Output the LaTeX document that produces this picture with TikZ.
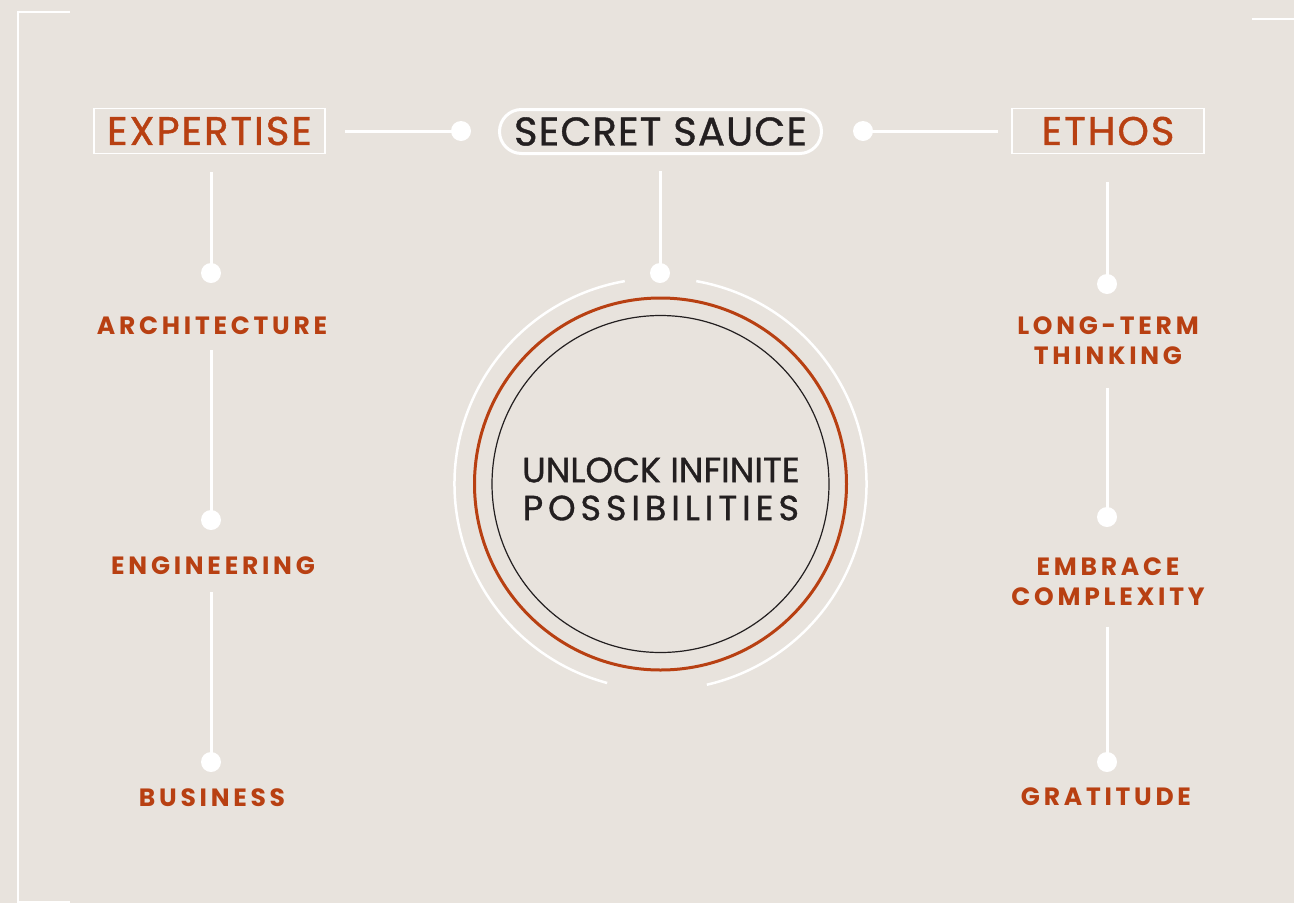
\documentclass[tikz,border=0pt]{standalone}
\usepackage{fontspec}
\setmainfont{Poppins}
\newfontfamily\headfont[LetterSpace=5,FakeBold=1]{Poppins}
\newfontfamily\pillfont[LetterSpace=3,FakeBold=1]{Poppins}
\newfontfamily\lblfont[LetterSpace=15]{Poppins}
\newfontfamily\ctrAfont[LetterSpace=0,FakeBold=1]{Poppins}
\newfontfamily\ctrBfont[LetterSpace=14,FakeBold=1]{Poppins}
\definecolor{bg}{RGB}{232,227,221}
\definecolor{rust}{RGB}{184,64,18}
\definecolor{ink}{RGB}{35,31,32}
\begin{document}
\begin{tikzpicture}[x=1pt,y=-1pt,
  wline/.style={draw=white,line width=3pt},
  dot/.style={circle,fill=white,inner sep=0pt,minimum size=20pt},
  head/.style={font=\headfont\fontsize{40}{44}\selectfont,text=rust},
  hbox/.style={head,draw=white,line width=1.5pt,minimum width=231pt,minimum height=45pt,inner sep=0pt},
  pill/.style={font=\pillfont\fontsize{40}{44}\selectfont,text=ink,draw=white,line width=3pt,
    minimum width=322pt,minimum height=44pt,rounded corners=22pt,inner sep=0pt},
  lbl/.style={font=\lblfont\bfseries\fontsize{25}{30}\selectfont,text=rust,align=center,inner sep=0pt}
]
\useasboundingbox (0,0) rectangle (1294,903);
\fill[bg] (0,0) rectangle (1294,903);
% frame corners
\draw[white,line width=2.5pt] (70,12) -- (18,12) -- (18,903);
\draw[white,line width=2.5pt] (18,902) -- (70,902);
\draw[white,line width=2.5pt] (1252,19) -- (1294,19);

% top row
\node[hbox] (exp) at (209.5,131) {EXPERTISE};
\node[pill] (ss) at (660.5,131.5) {SECRET SAUCE};
\node[hbox,minimum width=192pt] (eth) at (1108,131) {ETHOS};
\node[dot] (d1) at (461,131) {};
\node[dot] (d2) at (863,131) {};
\draw[wline,shorten <=19pt] (exp.east |- d1.center) -- (d1.center);
\draw[wline,shorten >=13pt] (d2.center) -- (eth.west |- d2.center);

% left column
\node[dot] (la) at (211,273) {};
\node[lbl] (arch) at (212,326) {ARCHITECTURE};
\node[dot] (lb) at (211,520) {};
\node[lbl] (eng) at (213,566) {ENGINEERING};
\node[dot] (lc) at (211,762) {};
\node[lbl] (bus) at (212,798) {BUSINESS};
\draw[wline,shorten <=18pt] (la.center |- exp.south) -- (la.center);
\draw[wline,shorten <=15pt] (lb.center |- arch.south) -- (lb.center);
\draw[wline,shorten <=17pt] (lc.center |- eng.south) -- (lc.center);

% right column
\node[dot] (ra) at (1107,284) {};
\node[lbl] (ltt) at (1108,341) {LONG-TERM\\THINKING};
\node[dot] (rb) at (1107,517) {};
\node[lbl] (emb) at (1108,581.5) {EMBRACE\\COMPLEXITY};
\node[dot] (rc) at (1107,762) {};
\node[lbl] (grat) at (1106,797) {GRATITUDE};
\draw[wline,shorten <=28pt] (ra.center |- eth.south) -- (ra.center);
\draw[wline,shorten <=23pt] (rb.center |- ltt.south) -- (rb.center);
\draw[wline,shorten <=21pt] (rc.center |- emb.south) -- (rc.center);

% centre
\node[circle,draw=ink,line width=1.2pt,minimum size=337pt,inner sep=0pt] (core) at (660.5,484) {};
\node[text=ink,align=center,inner sep=0pt,font=\fontsize{35}{38}\selectfont] (msg) at (661,489)
  {\ctrAfont UNLOCK INFINITE\\\ctrBfont POSSIBILITIES};
\draw[rust,line width=3pt] (core.center) circle (186);
\draw[white,line width=2.5pt] (core.center) ++(-100:206) arc[start angle=-100,end angle=-255,radius=206];
\draw[white,line width=2.5pt] (core.center) ++(-80:206) arc[start angle=-80,end angle=77,radius=206];
\node[dot] (ct) at (660,273) {};
\draw[wline,shorten <=16pt] (ct.center |- ss.south) -- (ct.center);
\end{tikzpicture}
\end{document}
